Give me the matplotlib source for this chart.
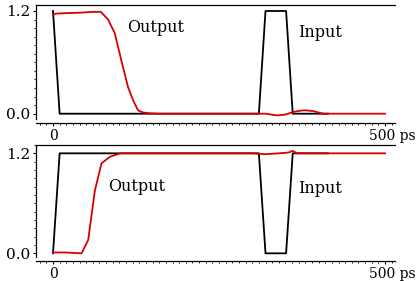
import matplotlib
matplotlib.use("Agg")
import matplotlib.pyplot as plt
import matplotlib.transforms as mtransforms
from matplotlib.ticker import MultipleLocator, FixedLocator

# Top panel data
t_in_top = [0, 10, 310, 320, 351, 361, 414]
v_in_top = [1.2, 0, 0, 1.2, 1.2, 0, 0]
t_out_top = [0, 5, 20, 40, 60, 72, 83, 93, 103, 113, 121, 128, 135, 145, 160, 200,
             300, 320, 337, 350, 362, 372, 380, 392, 407, 420, 500]
v_out_top = [1.16, 1.17, 1.175, 1.18, 1.19, 1.19, 1.10, 0.94, 0.62, 0.31, 0.15, 0.04,
             0.015, 0.005, 0, 0, 0, 0, -0.02, -0.01, 0.02, 0.035, 0.04, 0.03, 0.0, 0, 0]

# Bottom panel data
t_in_bot = [0, 10, 310, 320, 351, 361, 414]
v_in_bot = [0, 1.2, 1.2, 0, 0, 1.2, 1.2]
t_out_bot = [0, 20, 43, 53, 63, 73, 86, 101, 150, 300, 320, 340, 355, 361, 367, 380, 500]
v_out_bot = [0.01, 0.01, 0.0, 0.16, 0.75, 1.08, 1.16, 1.2, 1.2, 1.2, 1.19, 1.2, 1.21,
             1.23, 1.2, 1.2, 1.2]

y_ticks = [0.0, 1.2]
y_ticklabels = ["0.0", "1.2"]
x_ticks = [0, 500]
x_ticklabels = ["0", "500 ps"]

plt.rcParams['font.family'] = ["DejaVu Serif"]

fig = plt.figure(figsize=(4.2, 2.81), dpi=100)
W, H = 420, 281

def make_ax(top_px, bottom_px, ylim):
    ax = fig.add_axes([36 / W, (H - bottom_px) / H, 359 / W, (bottom_px - top_px) / H])
    ax.set_xlim(-25.6, 515)
    ax.set_ylim(*ylim)
    ax.spines['right'].set_visible(False)
    for s in ('top', 'left', 'bottom'):
        ax.spines[s].set_linewidth(0.9)
    ax.spines['bottom'].set_position(('outward', 3))
    ax.xaxis.set_major_locator(FixedLocator(x_ticks))
    ax.set_xticklabels(x_ticklabels)
    ax.xaxis.set_minor_locator(MultipleLocator(10))
    ax.yaxis.set_major_locator(FixedLocator(y_ticks))
    ax.set_yticklabels(y_ticklabels)
    ax.yaxis.set_minor_locator(MultipleLocator(0.1))
    ax.tick_params(axis='x', which='major', length=2.5, width=0.8, labelsize=10, pad=1.5)
    ax.tick_params(axis='y', which='major', length=2.5, width=0.8, labelsize=11, pad=1.5)
    ax.tick_params(axis='both', which='minor', length=1.6, width=0.6)
    labs = ax.get_xticklabels()
    off = mtransforms.ScaledTranslation(7 / 100, 0, fig.dpi_scale_trans)
    labs[1].set_transform(labs[1].get_transform() + off)
    return ax

ax1 = make_ax(5, 119, (-0.062, 1.27))
ax1.plot(t_in_top, v_in_top, color='black', lw=1.3)
ax1.plot(t_out_top, v_out_top, color='#d80000', lw=1.3)
ax1.text(154, 1.01, "Output", fontsize=11.5, ha='center', va='center')
ax1.text(402, 0.95, "Input", fontsize=11.5, ha='center', va='center')

ax2 = make_ax(145, 257, (-0.044, 1.3))
ax2.plot(t_in_bot, v_in_bot, color='black', lw=1.3)
ax2.plot(t_out_bot, v_out_bot, color='#d80000', lw=1.3)
ax2.text(126, 0.80, "Output", fontsize=11.5, ha='center', va='center')
ax2.text(402, 0.78, "Input", fontsize=11.5, ha='center', va='center')

fig.savefig("out.png", dpi=100)
